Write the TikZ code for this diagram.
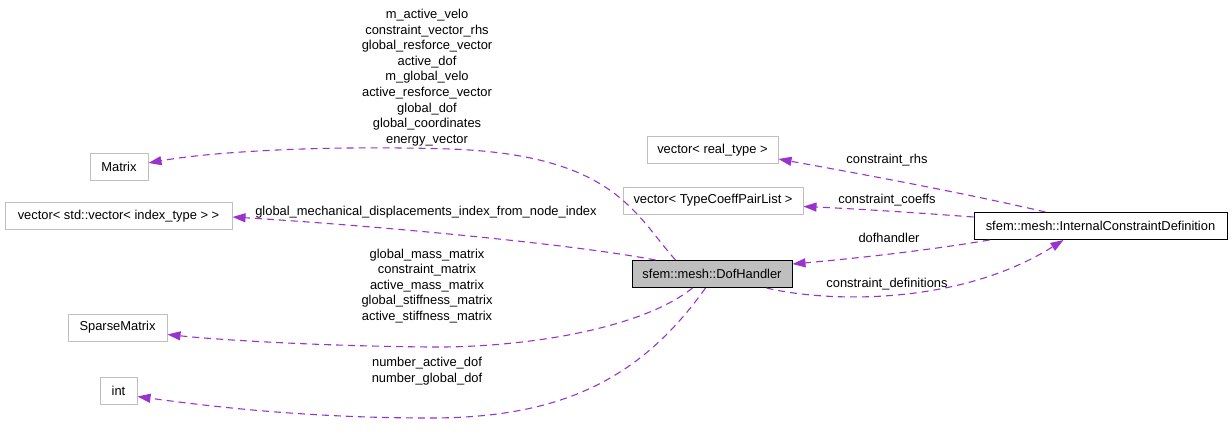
\documentclass[tikz,border=0pt]{standalone}
\usepackage{fontspec}
\setmainfont{Liberation Sans}
\usetikzlibrary{arrows.meta,calc}
\definecolor{edgec}{HTML}{9A32CD}
\definecolor{boxg}{HTML}{BFBFBF}
\tikzset{
  cls/.style={draw=boxg, fill=white, line width=1pt, minimum height=27pt, inner sep=0pt, font=\fontsize{12.9}{15.6}\selectfont},
  main/.style={draw=black, fill=boxg, line width=1pt, minimum height=27pt, inner sep=0pt, font=\fontsize{12.9}{15.6}\selectfont},
  icd/.style={draw=black, fill=white, line width=1pt, minimum height=27pt, inner sep=0pt, font=\fontsize{12.9}{15.6}\selectfont},
  lbl/.style={align=center, inner sep=0pt, font=\fontsize{12.9}{15.6}\selectfont},
  edge/.style={draw=edgec, line width=1.1pt, dash pattern=on 7pt off 5pt, -{Triangle[length=13pt,width=9pt]}},
}
\begin{document}
\begin{tikzpicture}[x=1pt,y=-1pt]
\useasboundingbox (0,0) rectangle (1232,439);
% nodes
\node[cls, minimum width=58pt] (matrix) at (119,166.5) {Matrix};
\node[cls, minimum width=227pt] (vvec) at (118.5,216) {vector< std::vector< index\_type > >};
\node[cls, minimum width=131pt] (vreal) at (712.5,150) {vector< real\_type >};
\node[cls, minimum width=180pt] (vtc) at (713,200.5) {vector< TypeCoeffPairList >};
\node[icd, minimum width=253pt] (icd) at (1100.5,226) {sfem::mesh::InternalConstraintDefinition};
\node[main, minimum width=160pt] (dh) at (712,274) {sfem::mesh::DofHandler};
\node[cls, minimum width=99pt] (sparse) at (117.5,327.5) {SparseMatrix};
\node[cls, minimum width=37pt] (int) at (118.5,390.5) {int};
% edges
\draw[edge] ([xshift=44pt]dh.north west) .. controls (635,215) and (615,155) .. (450,149) .. controls (320,145) and (210,152) .. ([yshift=3.5pt]matrix.east);
\draw[edge] ([xshift=24pt]dh.north west) .. controls (560,242) and (350,224) .. ([yshift=-1pt]vvec.east);
\draw[edge] ([xshift=61pt]dh.south west) .. controls (640,330) and (520,348) .. (430,347) .. controls (320,346) and (220,340) .. ([yshift=-7pt]sparse.east);
\draw[edge] ([xshift=74pt]dh.south west) .. controls (640,380) and (560,418) .. (430,418) .. controls (300,418) and (200,405) .. ([yshift=-6pt]int.east);
\draw[edge] ([xshift=-55pt]icd.north) .. controls (960,192) and (850,172) .. ([yshift=-9pt]vreal.east);
\draw[edge] ([yshift=9pt]icd.west) .. controls (920,213) and (860,209) .. ([yshift=-6pt]vtc.east);
\draw[edge] ([xshift=16pt]icd.south west) .. controls (930,250) and (860,258) .. ([yshift=10pt]dh.east);
\draw[edge] ([xshift=-26pt]dh.south east) .. controls (830,303) and (960,305) .. ([xshift=-37pt]icd.south);
% labels
\node[lbl] (l1) at (427,77.5) {m\_active\_velo\\constraint\_vector\_rhs\\global\_resforce\_vector\\active\_dof\\m\_global\_velo\\active\_resforce\_vector\\global\_dof\\global\_coordinates\\energy\_vector};
\node[lbl] (l2) at (426,212) {global\_mechanical\_displacements\_index\_from\_node\_index};
\node[lbl] (l3) at (427,286) {global\_mass\_matrix\\constraint\_matrix\\active\_mass\_matrix\\global\_stiffness\_matrix\\active\_stiffness\_matrix};
\node[lbl] (l4) at (427,371) {number\_active\_dof\\number\_global\_dof};
\node[lbl] (l5) at (887,160) {constraint\_rhs};
\node[lbl] (l6) at (887,200) {constraint\_coeffs};
\node[lbl] (l7) at (889,238) {dofhandler};
\node[lbl] (l8) at (887,284) {constraint\_definitions};
\end{tikzpicture}
\end{document}
